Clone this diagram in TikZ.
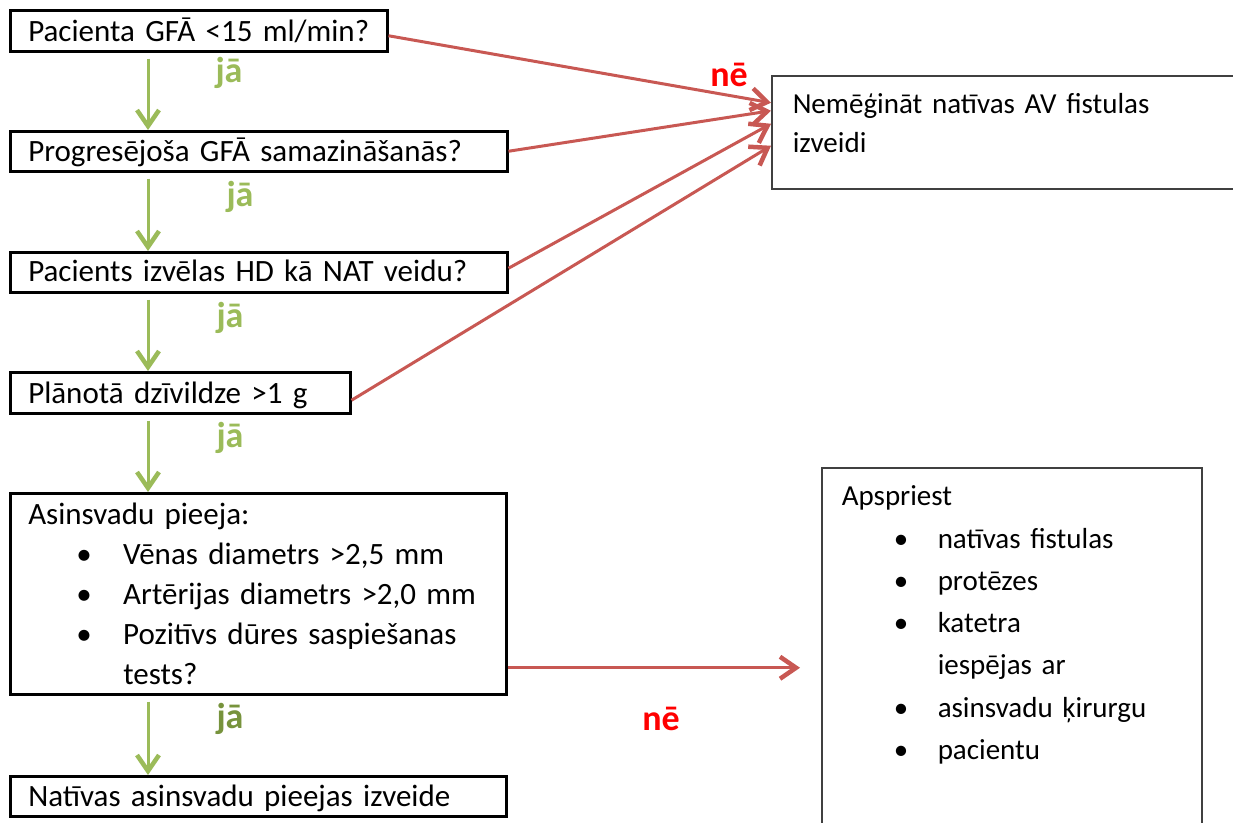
\documentclass[tikz,border=0pt]{standalone}
\usepackage{fontspec}
\setmainfont{Carlito}
\usetikzlibrary{arrows.meta}

\definecolor{yesgreen}{RGB}{155,187,89}
\definecolor{yesdark}{RGB}{119,147,60}
\definecolor{noline}{RGB}{200,88,83}
\definecolor{notext}{RGB}{255,0,0}
\definecolor{boxgray}{RGB}{64,64,64}

\begin{document}
\begin{tikzpicture}[x=1pt, y=-1pt,
    box/.style = {draw, line width=2.5pt, anchor=north west, inner sep=0pt, align=left,
        font=\fontsize{31}{40}\selectfont, execute at begin node={\leftskip=18pt}},
    outbox/.style = {box, draw=boxgray, line width=1.5pt},
    yes/.style = {draw=yesgreen, line width=3pt, shorten <=6pt,
        -{Straight Barb[length=16pt, width=22pt, line width=4.5pt]}},
    no/.style = {draw=noline, line width=3pt,
        -{Straight Barb[length=16pt, width=22pt, line width=4.5pt]}},
    yeslabel/.style = {text=yesgreen, font=\fontsize{36}{36}\selectfont\bfseries},
    nolabel/.style = {text=notext, font=\fontsize{36}{36}\selectfont\bfseries}]
    \useasboundingbox (0,0) rectangle (1233,822);

    % left column
    \node[box, text width=377pt, text height=31pt, text depth=10pt] (b1) at (9,9)
        {Pacienta GFĀ <15 ml/min?};
    \node[box, text width=497pt, text height=30pt, text depth=10pt] (b2) at (9,130)
        {Progresējoša GFĀ samazināšanās?};
    \node[box, text width=497pt, text height=29pt, text depth=11pt] (b3) at (9,251)
        {Pacients izvēlas HD kā NAT veidu?};
    \node[box, text width=340pt, text height=31pt, text depth=10pt] (b4) at (9,371)
        {Plānotā dzīvildze >1 g};
    \node[box, text width=496pt, text height=31pt, text depth=170pt] (b5) at (9,492)
        {Asinsvadu pieeja:\\
         \hspace*{48pt}\makebox[47pt][l]{•}Vēnas diametrs >2,5 mm\\
         \hspace*{48pt}\makebox[47pt][l]{•}Artērijas diametrs >2,0 mm\\
         \hspace*{48pt}\makebox[47pt][l]{•}Pozitīvs dūres saspiešanas\\
         \hspace*{95pt}tests?};
    \node[box, text width=496pt, text height=30pt, text depth=10pt] (b6) at (9,775)
        {Natīvas asinsvadu pieejas izveide};

    % right column
    \node[outbox, text width=469pt, text height=38pt, text depth=75pt,
        font=\fontsize{29}{39}\selectfont, execute at begin node={\leftskip=21pt}] (r1) at (771,75)
        {Nemēģināt natīvas AV fistulas\\izveidi};
    \node[outbox, text width=380pt, text height=38pt, text depth=363pt,
        font=\fontsize{29}{42.3}\selectfont, execute at begin node={\leftskip=20pt}] (r2) at (821,467)
        {Apspriest\\
         \hspace*{52pt}\makebox[44pt][l]{•}natīvas fistulas\\
         \hspace*{52pt}\makebox[44pt][l]{•}protēzes\\
         \hspace*{52pt}\makebox[44pt][l]{•}katetra\\
         \hspace*{96pt}iespējas ar\\
         \hspace*{52pt}\makebox[44pt][l]{•}asinsvadu ķirurgu\\
         \hspace*{52pt}\makebox[44pt][l]{•}pacientu};

    % ja
    \draw[yes] ([xshift=139pt]b1.south west) -- ([xshift=139pt]b2.north west);
    \draw[yes] ([xshift=139pt]b2.south west) -- ([xshift=139pt]b3.north west);
    \draw[yes] ([xshift=139pt]b3.south west) -- ([xshift=139pt]b4.north west);
    \draw[yes] ([xshift=139pt]b4.south west) -- ([xshift=139pt]b5.north west);
    \draw[yes] ([xshift=139pt]b5.south west) -- ([xshift=139pt]b6.north west);

    \node[yeslabel] (ja1) at (229,73) {jā};
    \node[yeslabel] (ja2) at (240,197) {jā};
    \node[yeslabel] (ja3) at (230,318) {jā};
    \node[yeslabel] (ja4) at (230,438) {jā};
    \node[yeslabel, text=yesdark] (ja5) at (230,719) {jā};

    % ne
    \draw[no] ([yshift=-5pt]b1.east) -- ([yshift=29.5pt]r1.west);
    \draw[no] (b2.east) -- ([yshift=21.5pt]r1.west);
    \draw[no] ([yshift=4pt]b3.east) -- ([yshift=8.5pt]r1.west);
    \draw[no] ([yshift=-7.5pt]b4.east) -- ([yshift=-13.5pt]r1.west);
    \coordinate (b5out) at ([yshift=-74pt]b5.east);
    \draw[no] (b5out) -- ([xshift=-21pt]b5out -| r2.west);

    \node[nolabel] (ne1) at (729,75) {nē};
    \node[nolabel] (ne2) at (661,719) {nē};
\end{tikzpicture}
\end{document}
